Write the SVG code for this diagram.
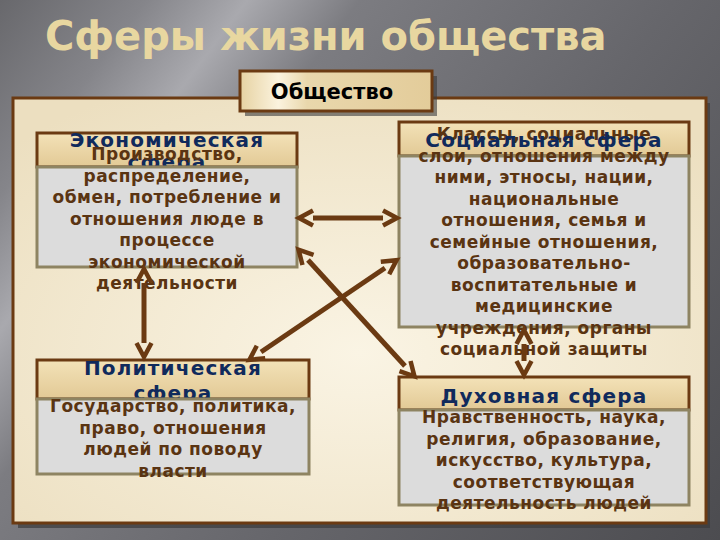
<svg xmlns="http://www.w3.org/2000/svg" width="720" height="540" viewBox="0 0 720 540">
<defs>
<linearGradient id="bg" gradientUnits="userSpaceOnUse" x1="0" y1="0" x2="720" y2="540">
<stop offset="0" stop-color="#68686c"/>
<stop offset="0.13" stop-color="#85858a"/>
<stop offset="0.22" stop-color="#a9a9ae"/>
<stop offset="0.32" stop-color="#7c7c81"/>
<stop offset="0.6" stop-color="#66666b"/>
<stop offset="1" stop-color="#4c4c50"/>
</linearGradient>
<radialGradient id="panel" cx="0.5" cy="0.6" r="0.7">
<stop offset="0" stop-color="#faf4e4"/>
<stop offset="1" stop-color="#ecdfc0"/>
</radialGradient>
<linearGradient id="hdr" x1="0" y1="0" x2="0" y2="1">
<stop offset="0" stop-color="#f3e2b8"/>
<stop offset="1" stop-color="#e2c995"/>
</linearGradient>
<linearGradient id="soc" x1="0" y1="0" x2="1" y2="0">
<stop offset="0" stop-color="#e6d2a2"/>
<stop offset="0.2" stop-color="#fbf3de"/>
<stop offset="0.35" stop-color="#e9d7ac"/>
<stop offset="1" stop-color="#e3cc9a"/>
</linearGradient>
<marker id="ah" viewBox="0 -9 18 18" refX="0" refY="0" markerWidth="18" markerHeight="18" markerUnits="userSpaceOnUse" orient="auto-start-reverse" overflow="visible">
<path d="M0,-7.5 L14,0 L0,7.5" fill="none" stroke="#6b3a12" stroke-width="4.5"/>
</marker>
</defs>
<style>
.title{font-family:"DejaVu Sans",Verdana,sans-serif;font-weight:bold;font-size:40px;fill:#e8d7a0}
.hdr{fill:url(#hdr);stroke:#6b3a12;stroke-width:3}
.body{fill:#dcdcdc;stroke:#8e8462;stroke-width:3}
.ht{font-family:"DejaVu Sans",Verdana,sans-serif;font-weight:bold;font-size:20px;letter-spacing:1.2px;fill:#102a5c;text-anchor:middle}
.bt{font-family:"DejaVu Sans",Verdana,sans-serif;font-weight:bold;font-size:17px;letter-spacing:0.5px;fill:#5a3412;text-anchor:middle}
.conn line{stroke:#6b3a12;stroke-width:5;marker-start:url(#ah);marker-end:url(#ah)}
</style>
<rect width="720" height="540" fill="url(#bg)"/>
<text class="title" x="45" y="50">Сферы жизни общества</text>
<g id="panel-bg">
<rect x="18" y="103" width="692" height="425" fill="#3a3a3c" opacity="0.7"/>
<rect x="13" y="98" width="693" height="425" fill="url(#panel)" stroke="#6b3a12" stroke-width="3"/>
</g>
<g id="society">
<rect x="245" y="76" width="192" height="40" fill="#3a3a3c" opacity="0.6"/>
<rect x="240" y="71" width="192" height="40" fill="url(#soc)" stroke="#6b3a12" stroke-width="3"/>
<text x="332" y="99" font-family="'DejaVu Sans',sans-serif" font-weight="bold" font-size="21" fill="#000" text-anchor="middle">Общество</text>
</g>
<g id="economic">
<rect class="hdr" x="37" y="133" width="260" height="34"/>
<text class="ht" x="167" y="147">Экономическая</text>
<text class="ht" x="167" y="169">сфера</text>
<rect class="body" x="37" y="167" width="260" height="100"/>
<text class="bt" x="167" y="160">Производство,</text>
<text class="bt" x="167" y="182">распределение,</text>
<text class="bt" x="167" y="203">обмен, потребление и</text>
<text class="bt" x="167" y="225">отношения люде в</text>
<text class="bt" x="167" y="246">процессе</text>
<text class="bt" x="167" y="268">экономической</text>
<text class="bt" x="167" y="289">деятельности</text>
</g>
<g id="social">
<rect class="hdr" x="399" y="122" width="290" height="34"/>
<rect class="body" x="399" y="156" width="290" height="171"/>
<text class="bt" x="544" y="140">Классы, социальные</text>
<text class="ht" x="544" y="147">Социальная сфера</text>
<text class="bt" x="544" y="161.5">слои, отношения между</text>
<text class="bt" x="544" y="183">ними, этносы, нации,</text>
<text class="bt" x="544" y="204.5">национальные</text>
<text class="bt" x="544" y="226">отношения, семья и</text>
<text class="bt" x="544" y="247.5">семейные отношения,</text>
<text class="bt" x="544" y="269">образовательно-</text>
<text class="bt" x="544" y="290.5">воспитательные и</text>
<text class="bt" x="544" y="312">медицинские</text>
<text class="bt" x="544" y="333.5">учреждения, органы</text>
<text class="bt" x="544" y="355">социальной защиты</text>
</g>
<g id="political">
<rect class="hdr" x="37" y="360" width="272" height="39"/>
<text class="ht" x="173" y="375">Политическая</text>
<text class="ht" x="173" y="400">сфера</text>
<rect class="body" x="37" y="399" width="272" height="75"/>
<text class="bt" x="173" y="412">Государство, политика,</text>
<text class="bt" x="173" y="433.5">право, отношения</text>
<text class="bt" x="173" y="455">людей по поводу</text>
<text class="bt" x="173" y="476.5">власти</text>
</g>
<g id="spiritual">
<rect class="hdr" x="399" y="377" width="290" height="33"/>
<text class="ht" x="544" y="403">Духовная сфера</text>
<rect class="body" x="399" y="410" width="290" height="95"/>
<text class="bt" x="544" y="423">Нравственность, наука,</text>
<text class="bt" x="544" y="445">религия, образование,</text>
<text class="bt" x="544" y="466">искусство, культура,</text>
<text class="bt" x="544" y="488">соответствующая</text>
<text class="bt" x="544" y="509">деятельность людей</text>
</g>
<g id="connectors" class="conn">
<line x1="313" y1="218" x2="383" y2="218"/>
<line x1="308" y1="260" x2="405" y2="366"/>
<line x1="385" y1="268" x2="261" y2="352"/>
<line x1="144" y1="283" x2="144" y2="343"/>
<line x1="524" y1="344" x2="524" y2="361"/>
</g>
</svg>
